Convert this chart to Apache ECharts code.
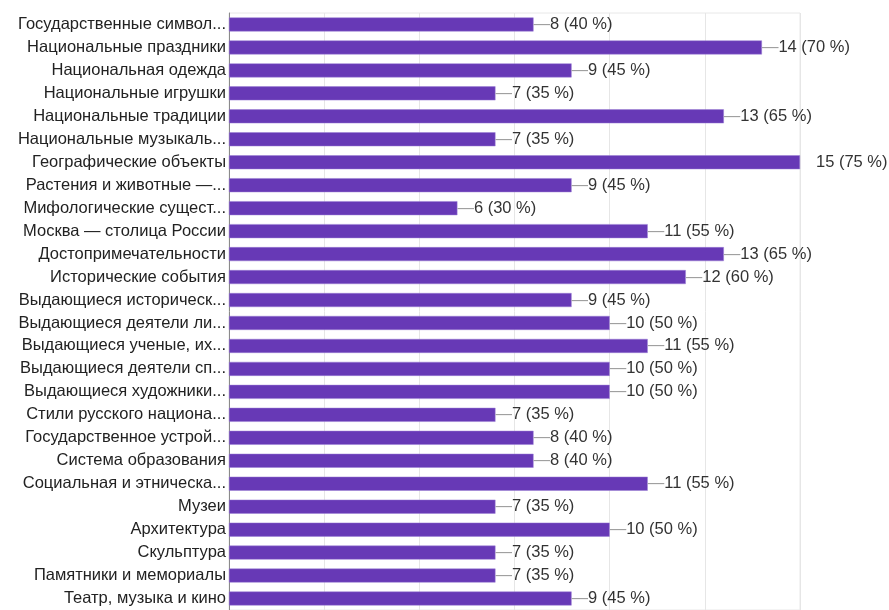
<!DOCTYPE html>
<html>
<head>
<meta charset="utf-8">
<script src="https://cdn.jsdelivr.net/npm/echarts@6/dist/echarts.min.js"></script>
<style>
  html, body { margin: 0; padding: 0; background: #fff; }
  #chart { width: 889px; height: 610px; }
</style>
</head>
<body>
<div id="chart"></div>
<script>
// категории (как на картинке, с обрезкой)
const categories = [
  'Государственные символ...',
  'Национальные праздники',
  'Национальная одежда',
  'Национальные игрушки',
  'Национальные традиции',
  'Национальные музыкаль...',
  'Географические объекты',
  'Растения и животные —...',
  'Мифологические сущест...',
  'Москва — столица России',
  'Достопримечательности',
  'Исторические события',
  'Выдающиеся историческ...',
  'Выдающиеся деятели ли...',
  'Выдающиеся ученые, их...',
  'Выдающиеся деятели сп...',
  'Выдающиеся художники...',
  'Стили русского национа...',
  'Государственное устрой...',
  'Система образования',
  'Социальная и этническа...',
  'Музеи',
  'Архитектура',
  'Скульптура',
  'Памятники и мемориалы',
  'Театр, музыка и кино'
];

const counts = [8, 14, 9, 7, 13, 7, 15, 9, 6, 11, 13, 12, 9, 10, 11, 10, 10, 7, 8, 8, 11, 7, 10, 7, 7, 9];
const percents = [40, 70, 45, 35, 65, 35, 75, 45, 30, 55, 65, 60, 45, 50, 55, 50, 50, 35, 40, 40, 55, 35, 50, 35, 35, 45];

const xMax = 15;
const xStep = 2.5;
const fontSize = 16.5;

const chart = echarts.init(document.getElementById('chart'));

const barData = counts.map((v, i) => {
  const item = { value: v };
  if (v === xMax) {
    // у самого длинного столбца подпись без черточки
    item.label = {
      distance: 16,
      color: '#333',
      fontSize: fontSize,
      formatter: v + ' (' + percents[i] + ' %)'
    };
  }
  return item;
});

const option = {
  animation: false,
  textStyle: { fontFamily: 'Arial, "Liberation Sans", sans-serif' },
  grid: {
    left: 229,
    top: 13,
    width: 571,
    height: 599,
    show: true,
    borderColor: '#e8e8e8',
    borderWidth: 1
  },
  xAxis: {
    type: 'value',
    min: 0,
    max: xMax,
    interval: xStep,
    axisLabel: { show: false },
    axisLine: { show: false },
    axisTick: { show: false },
    splitLine: { lineStyle: { color: '#e6e6e6' } }
  },
  yAxis: {
    type: 'category',
    inverse: true,
    data: categories,
    axisTick: { show: false },
    axisLine: { show: true, lineStyle: { color: '#8a8a8a', width: 1 } },
    axisLabel: {
      color: '#222',
      fontSize: fontSize,
      margin: 3
    }
  },
  series: [
    {
      type: 'bar',
      data: barData,
      barWidth: 14,
      itemStyle: {
        color: '#6739b6',
        borderColor: '#9b7fd4',
        borderWidth: 0.5
      },
      label: {
        show: true,
        position: 'right',
        distance: 0,
        formatter: (p) => '{d|—}{v|' + p.value + ' (' + percents[p.dataIndex] + ' %)}',
        rich: {
          d: { color: '#9e9e9e', fontSize: fontSize },
          v: { color: '#333', fontSize: fontSize }
        }
      }
    }
  ]
};

chart.setOption(option);
window.addEventListener('resize', () => chart.resize());
</script>
</body>
</html>
